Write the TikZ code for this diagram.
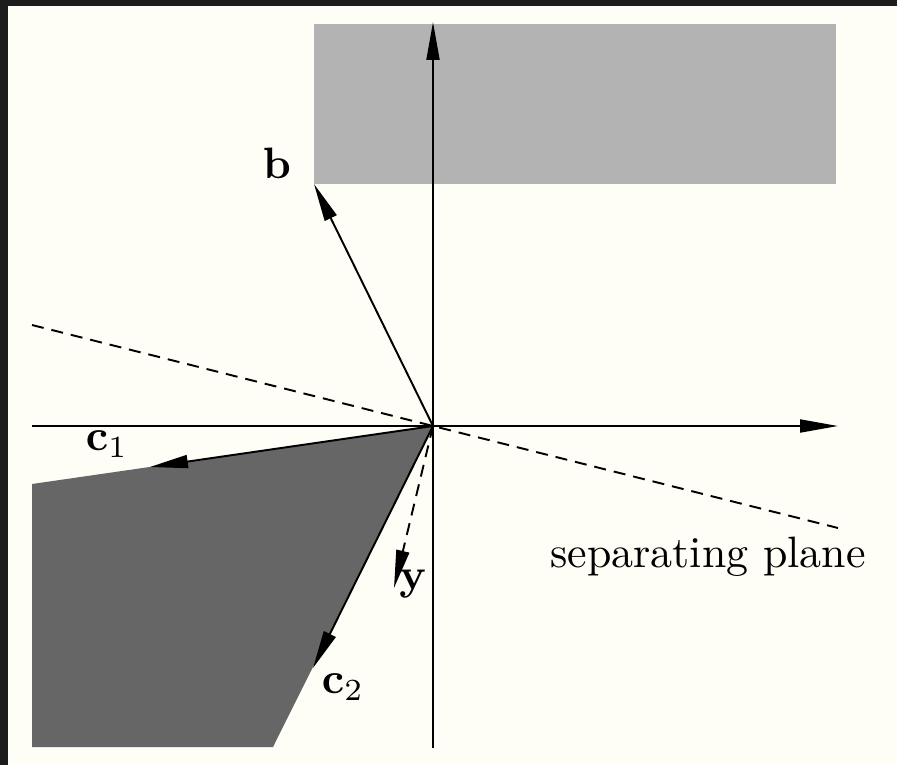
\documentclass[tikz,border=0pt]{standalone}
\usetikzlibrary{arrows.meta}
\definecolor{frame}{HTML}{1C1C1C}
\definecolor{paper}{HTML}{FEFEF6}
\definecolor{lightset}{HTML}{B3B3B3}
\definecolor{darkset}{HTML}{666666}

\begin{document}
\begin{tikzpicture}[x=0.02cm, y=-0.02cm, line width=1.1pt,
    every node/.style={font=\fontsize{10}{12}\selectfont, scale=2.5, inner sep=0pt},
    vec/.style={-{Triangle[length=0.76cm, width=0.26cm]}},
    plane/.style={dash pattern=on 0.24cm off 0.16cm}]
    % page
    \fill[frame] (0,0) rectangle (897,765);
    \fill[paper] (8,6) rectangle (897,765);
    \useasboundingbox (0,0) rectangle (897,765);
    % points
    \coordinate (o) at (433,426);
    \coordinate (xl) at (32,426);
    \coordinate (xr) at (838,426);
    \coordinate (yb) at (433,748);
    \coordinate (yt) at (433,22);
    \coordinate (pl) at (32,325);
    \coordinate (pr) at (838,528);
    \coordinate (bt) at (314,184);
    \coordinate (c1t) at (150,467);
    \coordinate (c2t) at (313,668);
    \coordinate (yv) at (394,588);
    % sets
    \fill[lightset] (314,24) rectangle (836,184);
    \fill[darkset] (o) -- (32,484) -- (32,747) -- (273,747) -- cycle;
    % separating plane
    \draw[plane] (pl) -- (pr);
    % axes
    \draw[vec] (xl) -- (xr);
    \draw[vec] (yb) -- (yt);
    % vectors
    \draw[vec] (o) -- (bt);
    \draw[vec] (o) -- (c1t);
    \draw[vec] (o) -- (c2t);
    \draw[vec, plane] (o) -- (yv);
    % labels
    \node (lb) at (277,163) {$\mathbf{b}$};
    \node (lc1) at (107,444) {$\mathbf{c}_1$};
    \node (lc2) at (343,687) {$\mathbf{c}_2$};
    \node (ly) at (413,584) {$\mathbf{y}$};
    \node[anchor=base] (lp) at (708,567) {separating plane};
\end{tikzpicture}
\end{document}
